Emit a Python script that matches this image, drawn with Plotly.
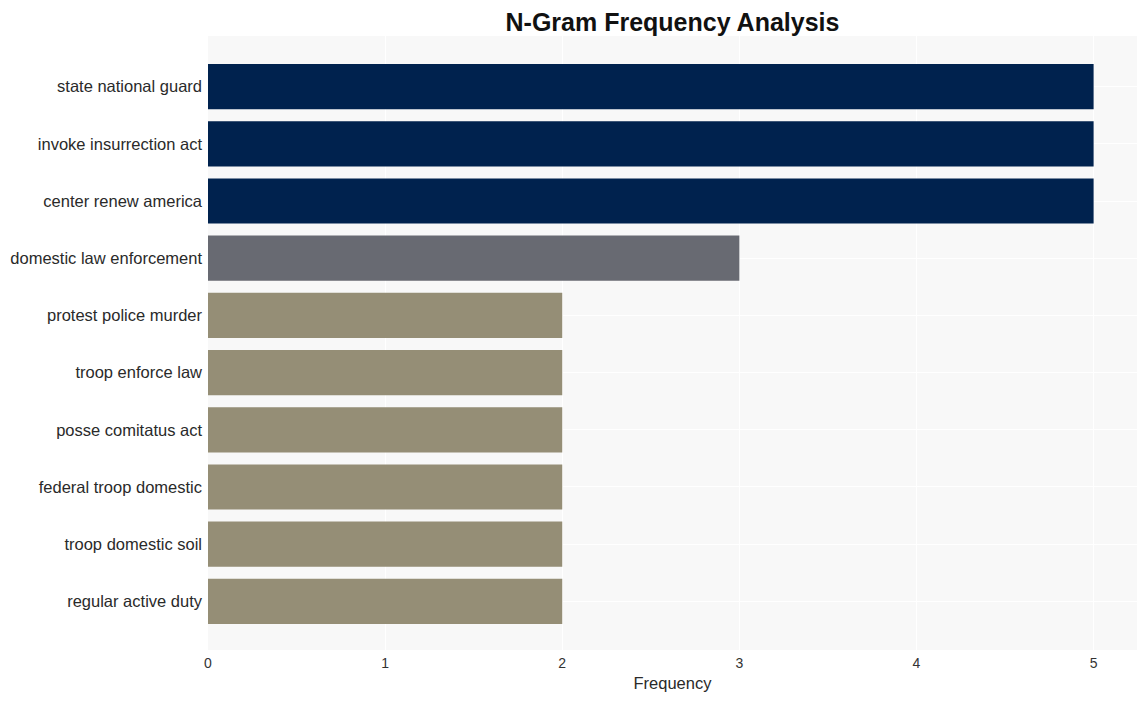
import plotly.graph_objects as go

ngrams = ["state national guard", "invoke insurrection act", "center renew america",
          "domestic law enforcement", "protest police murder", "troop enforce law",
          "posse comitatus act", "federal troop domestic", "troop domestic soil",
          "regular active duty"]
counts = [5, 5, 5, 3, 2, 2, 2, 2, 2, 2]
colors = ["#00224e", "#00224e", "#00224e", "#686a72", "#958e76", "#958e76",
          "#958e76", "#958e76", "#958e76", "#958e76"]

fig = go.Figure(go.Bar(
    x=counts, y=ngrams, orientation="h",
    marker=dict(color=colors, line=dict(width=0)),
    width=0.79,
))

fig.update_layout(
    width=1140, height=693,
    margin=dict(l=200, r=11, t=28, b=51),
    paper_bgcolor="white",
    plot_bgcolor="#f8f8f8",
    font=dict(family="Liberation Sans, Arial, sans-serif", color="#2a2a2a"),
    title=dict(text="<b>N-Gram Frequency Analysis</b>", x=0.5, xref="paper",
               xanchor="center", y=1 - 14 / 693, yanchor="middle",
               font=dict(size=25, color="#111111")),
    showlegend=False,
)
fig.update_xaxes(
    range=[0, 5.245], tickvals=[0, 1, 2, 3, 4, 5],
    gridcolor="white", gridwidth=1, zeroline=False,
    tickfont=dict(size=14, color="#333333"), ticklabelstandoff=3,
    title=dict(text="Frequency", font=dict(size=16.5), standoff=7),
    ticks="", showline=False, automargin=False,
)
fig.update_yaxes(
    categoryorder="array", categoryarray=ngrams,
    range=[9.85, -0.885],
    gridcolor="white", gridwidth=1, zeroline=False,
    tickfont=dict(size=16.5), ticks="", ticklabelstandoff=5,
    automargin=False,
)

fig.write_html("out.html")
